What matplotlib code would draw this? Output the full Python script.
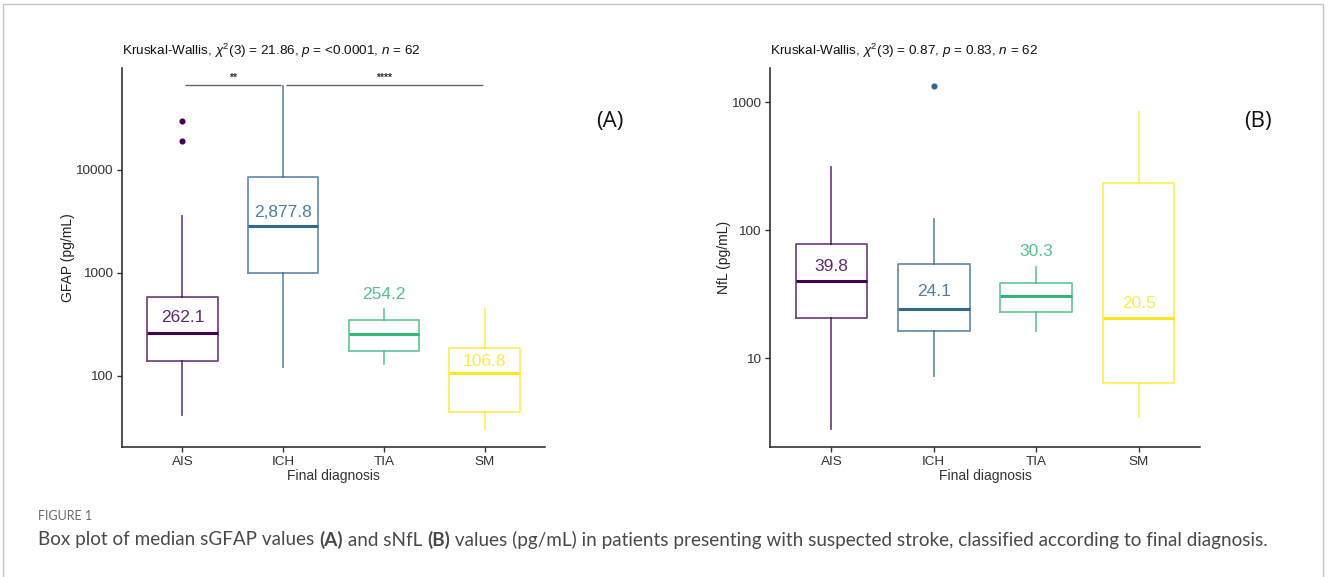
import matplotlib
matplotlib.use("Agg")
import matplotlib.pyplot as plt
from matplotlib.patches import Rectangle

plt.rcParams['font.family'] = ['Liberation Sans', 'DejaVu Sans']
plt.rcParams['mathtext.fontset'] = 'custom'
plt.rcParams['mathtext.rm'] = 'Liberation Sans'
plt.rcParams['mathtext.it'] = 'Liberation Sans:italic'

# ---------------- data ----------------
categories = ["AIS", "ICH", "TIA", "SM"]
colors = ["#440154", "#31688E", "#35B779", "#FDE725"]

# GFAP (pg/mL)
gfap_whislo = [41, 121, 130, 30]
gfap_q1 = [139, 1000, 174, 44]
gfap_med = [262.1, 2877.8, 254.2, 106.8]
gfap_q3 = [575, 8600, 346, 187]
gfap_whishi = [3570, 66000, 440, 440]
gfap_fliers = [[30000, 19100], [], [], []]
gfap_labels = ["262.1", "2,877.8", "254.2", "106.8"]
gfap_label_y = [366, 3830, 611, 137]

# NfL (pg/mL)
nfl_whislo = [2.8, 7.3, 16.4, 3.45]
nfl_q1 = [20.4, 16.4, 22.9, 6.4]
nfl_med = [39.8, 24.1, 30.3, 20.5]
nfl_q3 = [78, 54, 38.9, 235]
nfl_whishi = [312, 123, 51.8, 841]
nfl_fliers = [[], [1334], [], []]
nfl_labels = ["39.8", "24.1", "30.3", "20.5"]
nfl_label_y = [52.3, 33.4, 68.5, 26.9]

# significance brackets (panel A)
sig_pairs = [(1, 2), (2, 4)]
sig_text = ["**", "****"]
sig_y = 67000

title_a = r"Kruskal-Wallis, $\chi^2$(3) = 21.86, $\it{p}$ = <0.0001, $\it{n}$ = 62"
title_b = r"Kruskal-Wallis, $\chi^2$(3) = 0.87, $\it{p}$ = 0.83, $\it{n}$ = 62"

W, H = 1328, 577
fig = plt.figure(figsize=(W / 100, H / 100), dpi=100)
fig.patch.set_facecolor("white")

# outer frame
fig.patches.append(Rectangle((3 / W, -0.05), 1320 / W, 1.05 - 4 / H,
                             transform=fig.transFigure, fill=False,
                             edgecolor="#c4c4c4", lw=1.0))


def to_rgba(c, a):
    import matplotlib.colors as mc
    r, g, b, _ = mc.to_rgba(c)
    return (r, g, b, a)


def panel(rect, whislo, q1, med, q3, whishi, fliers, labels, label_y,
          ylim, yticks, ylabel, title):
    ax = fig.add_axes(rect)
    stats = []
    for i in range(len(categories)):
        stats.append(dict(whislo=whislo[i], q1=q1[i], med=med[i], q3=q3[i],
                          whishi=whishi[i], fliers=fliers[i]))
    for i, s in enumerate(stats):
        c = colors[i]
        ax.bxp([s], positions=[i + 1], widths=0.7, showcaps=False,
               boxprops=dict(color=to_rgba(c, 0.72), lw=1.3),
               whiskerprops=dict(color=to_rgba(c, 0.72), lw=1.3),
               medianprops=dict(color=c, lw=2.2),
               flierprops=dict(marker="o", markersize=3.4,
                               markerfacecolor=c, markeredgecolor=c))
        ax.text(i + 1, label_y[i], labels[i], ha="center", va="center",
                fontsize=12.5, color=to_rgba(c, 0.85))
    ax.set_yscale("log")
    ax.set_ylim(*ylim)
    ax.set_xlim(0.4, 4.6)
    ax.set_yticks(yticks)
    ax.set_yticklabels([str(t) for t in yticks])
    ax.minorticks_off()
    ax.set_xticks(range(1, len(categories) + 1))
    ax.set_xticklabels(categories)
    for sp in ["top", "right"]:
        ax.spines[sp].set_visible(False)
    for sp in ["left", "bottom"]:
        ax.spines[sp].set_color("#222222")
        ax.spines[sp].set_linewidth(1.1)
    ax.tick_params(axis="both", length=3.5, width=1.0, color="#333333",
                   labelsize=9.7, labelcolor="#333333", pad=3)
    ax.set_xlabel("Final diagnosis", fontsize=10, color="#333333", labelpad=1)
    ax.set_ylabel(ylabel, fontsize=10, color="#222222", labelpad=0)
    ax.set_title(title, loc="left", fontsize=9.7, color="#111111", pad=9)
    return ax


ax1 = panel([122 / W, 1 - 447 / H, 423 / W, 379 / H],
            gfap_whislo, gfap_q1, gfap_med, gfap_q3, gfap_whishi, gfap_fliers,
            gfap_labels, gfap_label_y, (20.2, 98000), [100, 1000, 10000],
            "GFAP (pg/mL)", title_a)

ax2 = panel([770 / W, 1 - 447 / H, 430 / W, 379 / H],
            nfl_whislo, nfl_q1, nfl_med, nfl_q3, nfl_whishi, nfl_fliers,
            nfl_labels, nfl_label_y, (2.02, 1845), [10, 100, 1000],
            "NfL (pg/mL)", title_b)

# significance brackets
for (a, b), t in zip(sig_pairs, sig_text):
    ax1.plot([a + 0.03, b - 0.02], [sig_y, sig_y], color="#666666", lw=1.0,
             solid_capstyle="butt")
    ax1.text((a + b) / 2, sig_y * 1.05, t, ha="center", va="bottom",
             fontsize=7.5, color="#333333", fontweight="bold")

# panel letters
fig.text(610 / W, 1 - 122 / H, "(A)", fontsize=16, family="Open Sans",
         ha="center", va="center", color="#111111")
fig.text(1258 / W, 1 - 122 / H, "(B)", fontsize=16, family="Open Sans",
         ha="center", va="center", color="#111111")

# caption
fig.text(38 / W, 1 - 516 / H, "FIGURE 1", fontsize=9, family="Lato",
         color="#6a6a6a", va="center")
renderer = fig.canvas.get_renderer()
pieces = [("Box plot of median sGFAP values ", "normal"), ("(A)", "bold"),
          (" and sNfL ", "normal"), ("(B)", "bold"),
          (" values (pg/mL) in patients presenting with suspected stroke, "
           "classified according to final diagnosis.", "normal")]
x = 38 / W
for txt, wgt in pieces:
    t = fig.text(x, 1 - 540 / H, txt, fontsize=13.6, family="Lato",
                 fontweight=wgt, color="#4a4a4a", va="center")
    bb = t.get_window_extent(renderer)
    x += bb.width / fig.bbox.width

fig.savefig("out.png", dpi=100, facecolor="white")
